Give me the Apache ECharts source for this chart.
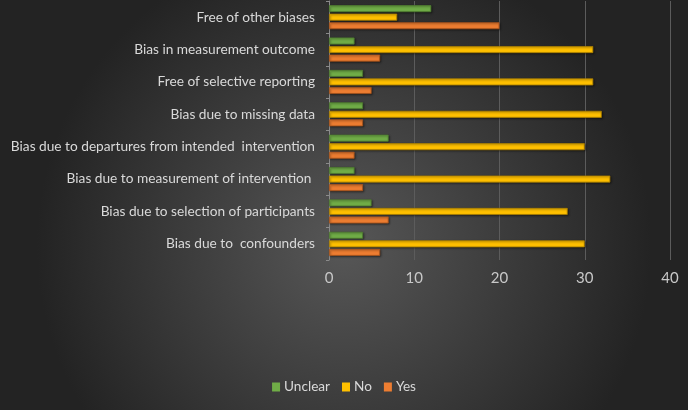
<!DOCTYPE html>
<html><head><meta charset="utf-8">
<script src="https://cdn.jsdelivr.net/npm/echarts@6/dist/echarts.min.js"></script>
<style>html,body{margin:0;padding:0;}#c{width:688px;height:410px;}</style>
</head><body><div id="c"></div>
<script>
const categories = [
  "Bias due to  confounders",
  "Bias due to selection of participants",
  "Bias due to measurement of intervention ",
  "Bias due to departures from intended  intervention",
  "Bias due to missing data",
  "Free of selective reporting",
  "Bias in measurement outcome",
  "Free of other biases"
];
const unclear = [4, 5, 3, 7, 4, 4, 3, 12];
const no      = [30, 28, 33, 30, 32, 31, 31, 8];
const yes     = [6, 7, 4, 3, 4, 5, 6, 20];
const xTicks = [0, 10, 20, 30, 40];

const FONT = 'Lato';
const chart = echarts.init(document.getElementById('c'));
function bar(name, data, color, border) {
  return {
    name, type: 'bar', data, barWidth: 7, barGap: '22%',
    itemStyle: { color, borderColor: border, borderWidth: 0.8,
      shadowColor: 'rgba(0,0,0,0.45)', shadowBlur: 2, shadowOffsetX: 1, shadowOffsetY: 1 }
  };
}
chart.setOption({
  backgroundColor: {
    type: 'radial', x: 0.5, y: 0.6, r: 0.75,
    colorStops: [{ offset: 0, color: '#575757' }, { offset: 1, color: '#232323' }]
  },
  animation: false,
  textStyle: { fontFamily: FONT },
  grid: { left: 329, right: 18, top: 1, bottom: 150 },
  xAxis: {
    type: 'value', min: xTicks[0], max: xTicks[xTicks.length - 1], interval: 10,
    axisLine: { show: false }, axisTick: { show: false },
    splitLine: { lineStyle: { color: '#5c5c5c', width: 1 } },
    axisLabel: { color: '#c8c8c8', fontSize: 15, margin: 11, fontFamily: FONT }
  },
  yAxis: {
    type: 'category', data: categories,
    axisLine: { show: true, lineStyle: { color: '#8a8a8a', width: 1 } },
    axisTick: { show: true, length: 3, lineStyle: { color: '#8a8a8a' } },
    axisLabel: { color: '#d9d9d9', fontSize: 13.7, margin: 14, fontFamily: FONT }
  },
  legend: {
    data: ['Unclear', 'No', 'Yes'], bottom: 11, left: 'center',
    itemWidth: 8, itemHeight: 9, itemGap: 12, icon: 'rect',
    itemStyle: { borderWidth: 0, shadowBlur: 0, shadowOffsetX: 0, shadowOffsetY: 0 },
    textStyle: { color: '#d9d9d9', fontSize: 13.6, fontFamily: FONT, padding: [0, 0, 0, -1] }
  },
  series: [
    bar('Unclear', unclear, '#70ad47', '#4c7a2e'),
    bar('No', no, '#ffc000', '#a87e00'),
    bar('Yes', yes, '#ed7d31', '#a8531b')
  ]
});
</script></body></html>
